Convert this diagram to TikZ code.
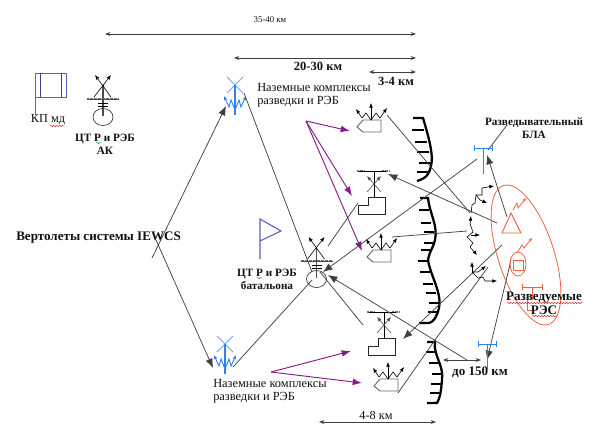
\documentclass[tikz,border=0pt]{standalone}
\usepackage{fontspec}
\setmainfont{Liberation Serif}
\usepackage{tikz}
\usetikzlibrary{
  positioning,
  calc,
  arrows.meta,
  decorations.pathmorphing
}
\definecolor{bluesym}{HTML}{2F80F0}
\definecolor{flagsym}{HTML}{5A5FC0}
\definecolor{purplearr}{HTML}{8A1A8A}
\definecolor{orangesym}{HTML}{F0603C}
\definecolor{textmain}{HTML}{111111}
\definecolor{hatchgray}{HTML}{707070}

\begin{document}
\begin{tikzpicture}[
    x=0.75pt, y=-0.75pt,
    lbl/.style={font=\fontsize{9.2}{10}\selectfont, text=textmain, inner sep=0pt, align=center},
    lblb/.style={font=\fontsize{8.4}{9.6}\selectfont\bfseries, text=textmain, inner sep=0pt, align=center},
    lbldim/.style={font=\fontsize{9.4}{10}\selectfont\bfseries, text=textmain, inner sep=0pt, align=center},
    lblbig/.style={font=\fontsize{9.8}{10.5}\selectfont\bfseries, text=textmain, inner sep=0pt, align=center},
    lblsm/.style={font=\fontsize{6.6}{7}\selectfont, text=textmain, inner sep=0pt},
    lblk/.style={font=\fontsize{9.3}{10.2}\selectfont, text=textmain, inner sep=0pt, align=left},
    dimarr/.style={{Stealth[length=4pt,width=3pt]}-{Stealth[length=4pt,width=3pt]}, draw=black!75, line width=.6pt},
    link/.style={draw=black!75, line width=.55pt},
    linkarr/.style={link, -{Latex[length=7pt,width=5.5pt]}},
    parr/.style={draw=purplearr, line width=.7pt, -{Latex[length=7pt,width=5pt]}},
    sarr/.style={-{Latex[length=3.5pt,width=2.8pt]}, line width=.45pt},
    front/.style={line width=1.7pt, draw=black},
    tooth/.style={line width=1.2pt, draw=black},
    hatchbar/.style={draw=hatchgray, line width=1.8pt, dash pattern=on .5pt off .5pt},
    wavyred/.style={draw=red!80!black, line width=.3pt, decorate, decoration={snake, amplitude=.45pt, segment length=2.2pt}},
    wavygreen/.style={draw=green!55!black, line width=.3pt, decorate, decoration={snake, amplitude=.45pt, segment length=2.2pt}},
    ctsym/.pic={
      \draw[hatchbar] (-16,0) -- (16,0);
      \draw[black!70, line width=.5pt] (-16,0) -- (16,0);
      \draw[black!70, line width=.8pt] (0,-14) -- (0,17);
      \draw[black, line width=.5pt] (-5,4) -- (5,4) (-5,7) -- (5,7);
      \draw[black!80, line width=.5pt] (0,18) ellipse (10 and 8.5);
      \draw[sarr] (-9,-2) -- (8,-24);
      \draw[sarr] (8,-2) -- (-8,-24);
    },
    kompl/.pic={
      \draw[black!60, line width=.7pt] (-14,7) -- (-8,0) -- (10,0) -- (10,12) -- (-8,12) -- cycle;
      \draw[sarr] (0,0) -- (0,-17);
      \draw[line width=.45pt] (-9,-2) -- (-5,-7) -- (0,0) -- (5,-7) -- (9,-2);
      \draw[sarr] (-9,-2) -- (-15,-11);
      \draw[sarr] (9,-2) -- (16,-12);
    },
    stepsym/.pic={
      \draw[hatchbar] (-17,0) -- (-10,0) (8,0) -- (15,0);
      \draw[black, line width=.5pt] (-15,0) -- (12,0);
      \draw[black, line width=.6pt] (0,0) -- (0,26);
      \draw[black!85, line width=.65pt] (-16,43) -- (-16,34) -- (-6,34) -- (-6,26) -- (11,26) -- (11,43) -- cycle;
      \draw[sarr, black!70] (-7,21) -- (7,5);
      \draw[sarr, black!70] (7,21) -- (-7,5);
    },
    bluemast/.pic={
      \draw[bluesym!70, line width=.6pt] (-8,-8) -- (8,8) (8,-8) -- (-8,8);
      \draw[bluesym, line width=.8pt] (0,0) -- (0,30);
      \draw[bluesym, line width=.7pt, -{Latex[length=3pt,width=2.6pt]}] (0,25) -- (4,15) -- (6,22) -- (11,11);
      \draw[bluesym, line width=.7pt, -{Latex[length=3pt,width=2.6pt]}] (0,25) -- (-4,15) -- (-6,22) -- (-11,11);
    },
    bluetee/.pic={
      \draw[bluesym, line width=.7pt] (-9,0) -- (9,0) (0,0) -- (0,26);
      \draw[bluesym, line width=.7pt] (-9,-3) -- (-9,3) (9,-3) -- (9,3);
    },
  ]
  \useasboundingbox (0,0) rectangle (598,432);

  % размеры
  \coordinate (d1a) at (105,34);  \coordinate (d1b) at (416,34);
  \coordinate (d2a) at (234,58);  \coordinate (d2b) at (416,58);
  \coordinate (d3a) at (369,72);  \coordinate (d3b) at (416,72);
  \coordinate (d4a) at (319,422); \coordinate (d4b) at (436,422);
  \coordinate (d5a) at (443,360); \coordinate (d5b) at (481,360);
  \draw[dimarr] (d1a) -- (d1b);
  \draw[dimarr] (d2a) -- (d2b);
  \draw[dimarr] (d3a) -- (d3b);
  \draw[dimarr] (d4a) -- (d4b);
  \draw[dimarr] (d5a) -- (d5b);
  \node[lblsm] (t35) at (270,20) {35-40 км};
  \node[lbldim] (t20) at (318,66) {20-30 км};
  \node[lbldim] (t3) at (396,81) {3-4 км};
  \node[lbl] (t4) at (376,415) {4-8 км};
  \node[lblbig] (t150) at (480,372) {до 150 км};

  % КП
  \draw[flagsym, line width=.7pt] (35,115) -- (35,73) -- (66,73) -- (66,97) -- (35,97);
  \draw[flagsym!70!black, line width=.7pt] (40.5,73) -- (40.5,97) (61.5,73) -- (61.5,97);
  \node[lbl] (kpmd) at (48,120) {КП мд};
  \draw[wavyred] (50,126) -- (65,126);

  % ЦТ АК
  \pic at (103,99) {ctsym};
  \node[lblb] (ctak) at (105,144) {ЦТ Р и РЭБ\\АК};
  \draw[wavygreen] (96,143) -- (102,143);

  % ЦТ батальона
  \draw[flagsym, line width=.8pt] (260,259) -- (260,219) -- (281,231) -- (260,241);
  \pic at (316.5,261) {ctsym};
  \node[lblb] (ctbat) at (267,279) {ЦТ Р и РЭБ\\батальона};
  \draw[wavygreen] (257,278) -- (263,278);

  % вертолеты
  \node[lblbig, anchor=west] (vert) at (16,238) {Вертолеты системы IEWCS};
  \pic at (235,85) {bluemast};
  \pic at (225,344) {bluemast};
  \coordinate (vup) at (152,258);   \coordinate (vupe) at (226,106);
  \coordinate (vdn) at (156,240);   \coordinate (vdne) at (213,368);
  \coordinate (mt) at (244,93);     \coordinate (mb) at (233,367);
  \coordinate (ctt) at (312,272);   \coordinate (ctb) at (312,280);
  \draw[linkarr] (vup) -- (vupe);
  \draw[linkarr] (vdn) -- (vdne);
  \draw[link] (mt) -- (ctt);
  \draw[link] (mb) -- (ctb);

  % наземные комплексы
  \node[lblk, anchor=north west] (komp1) at (257,83) {Наземные комплексы\\разведки и РЭБ};
  \node[lblk, anchor=north west] (komp2) at (213,379) {Наземные комплексы\\разведки и РЭБ};
  \pic at (371,120) {kompl};
  \pic at (381,250) {kompl};
  \pic at (388,379) {kompl};
  \pic at (374,171) {stepsym};
  \pic at (384,312) {stepsym};

  % стрелки к комплексам
  \coordinate (pa) at (306,121);  \coordinate (pb) at (271,372);
  \coordinate (pa1) at (350,131); \coordinate (pa2) at (352,196); \coordinate (pa3) at (362,251);
  \coordinate (pb1) at (351,351); \coordinate (pb2) at (362,383);
  \draw[parr] (pa) -- (pa1);
  \draw[parr] (pa) -- (pa2);
  \draw[parr] (pa) -- (pa3);
  \draw[parr] (pb) -- (pb1);
  \draw[parr] (pb) -- (pb2);

  % рубежи
  \draw[front] (413,118) -- (423,118) .. controls (428,135) and (434,155) .. (431,166) .. controls (429,174) and (427,178) .. (417,181);
  \foreach \xx/\yy in {424/130,427/142,429/152,431/163,429/172}
    \draw[tooth] (\xx,\yy) -- (\xx-12,\yy);
  \draw[front] (420,198) -- (428,198) .. controls (430,215) and (438,225) .. (435,240) .. controls (432,252) and (426,255) .. (429,265) .. controls (433,280) and (442,295) .. (439,308) .. controls (437,316) and (434,322) .. (429,323) -- (419,323);
  \foreach \xx/\yy in {429/210,431/223,434/232,434/243,431/250,428/261,430/272,433/284,436/293,439/303,438/312}
    \draw[tooth] (\xx,\yy) -- (\xx-10,\yy);
  \draw[front] (427,342) -- (435,342) .. controls (433,355) and (444,365) .. (442,380) .. controls (441,392) and (440,398) .. (437,403) -- (427,403);
  \foreach \xx/\yy in {436/352,439/363,442/374,441/384,440/393}
    \draw[tooth] (\xx,\yy) -- (\xx-10,\yy);

  % линии связи
  \coordinate (c1) at (387,115);  \coordinate (r1) at (470,213);
  \coordinate (c2) at (497,223);  \coordinate (c2e) at (388,174);
  \coordinate (c3) at (477,159);  \coordinate (c3e) at (323,272);
  \coordinate (c4) at (392,237);  \coordinate (c4e) at (467,231);
  \coordinate (c5) at (358,203);  \coordinate (c5e) at (328,246);
  \coordinate (c6) at (502,245);  \coordinate (c6e) at (403,339);
  \coordinate (c7) at (488,267);  \coordinate (c7m) at (435,340);  \coordinate (c7e) at (398,393);
  \coordinate (c8) at (467,360);  \coordinate (c8e) at (328,275);
  \coordinate (c9) at (320,272);  \coordinate (c9e) at (363,325);
  \coordinate (c10) at (511,260); \coordinate (c10e) at (487,360);
  \coordinate (c11) at (507,217); \coordinate (c11e) at (487,155);
  \coordinate (c12) at (507,125); \coordinate (c12e) at (488,150);
  \draw[link] (c1) -- (r1);
  \draw[linkarr] (c2) -- (c2e);
  \draw[linkarr] (c3) -- (c3e);
  \draw[link] (c4) -- (c4e);
  \draw[link] (c5) -- (c5e);
  \draw[linkarr] (c6) -- (c6e);
  \draw[link] (c7) -- (c7m) -- (c7e);
  \draw[linkarr] (c8) -- (c8e);
  \draw[link] (c9) -- (c9e);
  \draw[linkarr] (c10) -- (c10e);
  \draw[linkarr] (c11) -- (c11e);
  \draw[link] (c12) -- (c12e);

  % ретрансляторы
  \draw[sarr] (471,213) -- (472,205) -- (475,203) -- (476,195) -- (482,195) -- (482,188) -- (494,186);
  \draw[sarr] (476,195) -- (480,200) -- (487,203);
  \draw[sarr] (470,224) -- (471,216);
  \draw[line width=.45pt] (470,224) -- (473,232) -- (467,237) -- (473,243) -- (470,247);
  \draw[sarr] (470,247) -- (477,255);
  \draw[sarr] (471,235) -- (480,235);
  \draw[sarr] (472,272) -- (472,262);
  \draw[sarr] (478,272) -- (486,266);
  \draw[sarr] (478,278) -- (483,277) -- (485,281) -- (497,281);
  \draw[line width=.45pt] (472,272) -- (478,272) (472,272) -- (478,278);

  % БЛА
  \pic at (483,148) {bluetee};
  \pic at (487.5,344) {bluetee};
  \node[lblb] (bla) at (534,128) {Разведывательный\\БЛА};

  % разведуемые РЭС
  \draw[orangesym, line width=.6pt, rotate around={-72:(526,255)}] (526,255) ellipse (73 and 28);
  \draw[orangesym, line width=.7pt] (502,233) -- (511,213) -- (521,233) -- cycle;
  \draw[orangesym, line width=.6pt, -{Stealth[length=3pt,width=2.4pt]}] (513,210) -- (517,203) -- (518,208) -- (526,198);
  \draw[orangesym, line width=.7pt] (513,260) rectangle (523,270);
  \draw[orangesym, line width=.6pt] (518,264) ellipse (8 and 12);
  \draw[orangesym, line width=.6pt, -{Stealth[length=3pt,width=2.4pt]}] (517,253) -- (522,245) -- (524,248) -- (532,238);
  \draw[orangesym, line width=.7pt] (522,287) -- (542,287) (522,284) -- (522,290) (542,284) -- (542,290) (532,287) -- (532,300) (527,300) -- (527,310) -- (533,310);
  \node[lblbig] (res) at (544,303) {Разведуемые\\РЭС};
  \draw[wavyred] (507,303) -- (583,303);
  \draw[wavyred] (532,316) -- (557,316);
\end{tikzpicture}
\end{document}
